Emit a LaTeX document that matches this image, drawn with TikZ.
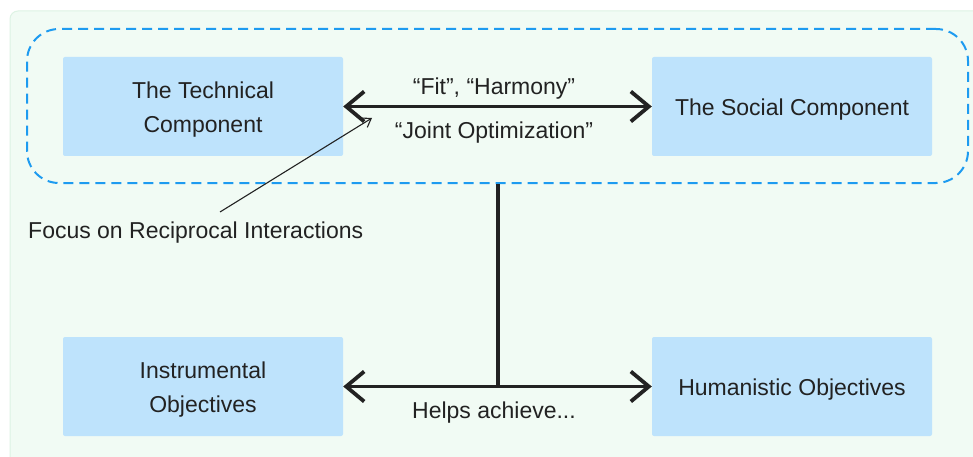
\documentclass[tikz,border=0pt]{standalone}
\usepackage{fontspec}
\setmainfont{Liberation Sans}
\usetikzlibrary{arrows.meta,fit,calc}
\definecolor{panelbg}{HTML}{F1FBF4}
\definecolor{panelrim}{HTML}{DDF3E4}
\definecolor{boxfill}{HTML}{BEE3FC}
\definecolor{groupblue}{HTML}{1E9BF0}
\definecolor{ink}{HTML}{222222}
\tikzset{
  compbox/.style={fill=boxfill, rounded corners=2pt, minimum width=280pt, minimum height=99pt, inner sep=0pt},
  boxtext/.style={text=ink, align=center, font=\fontsize{23}{34}\selectfont, inner sep=0pt, yshift=-3pt},
  biglink/.style={draw=ink, line width=3.8pt, line cap=round, line join=round,
    {Straight Barb[length=18pt,width=30pt,line width=3.8pt]}-{Straight Barb[length=18pt,width=30pt,line width=3.8pt]}},
  caption/.style={text=ink, font=\fontsize{23}{28}\selectfont, inner sep=0pt},
  pointer/.style={draw=ink, line width=1.1pt, -{Straight Barb[length=8pt,width=11pt]}},
}
\begin{document}
\begin{tikzpicture}[x=1pt,y=-1pt]
  \useasboundingbox (0,0) rectangle (973,457);
  % background panel
  \fill[white] (0,0) rectangle (973,457);
  \draw[panelrim, fill=panelbg, rounded corners=8pt, line width=1pt] (10,11) -- (990,11) -- (990,470) -- (10,470) -- cycle;

  % component boxes
  \node[compbox, label={[boxtext]center:{The Technical\\Component}}] (tech)  at (203,106.5) {};
  \node[compbox, label={[boxtext]center:{The Social Component}}]     (soc)   at (792,106.5) {};
  \node[compbox, label={[boxtext]center:{Instrumental\\Objectives}}] (instr) at (203,386.5) {};
  \node[compbox, label={[boxtext]center:{Humanistic Objectives}}]    (human) at (792,386.5) {};

  % dashed group around the two components
  \node[draw=groupblue, line width=2pt, dash pattern=on 10pt off 6pt, rounded corners=32pt,
        inner sep=0pt, fit={(27,29) (968,183)}] (sociotech) {};

  % reciprocal link between the components
  \draw[biglink] (tech.east) -- (soc.west);
  \node[caption] (fit)   at (494,89) {“Fit”, “Harmony”};
  \node[caption] (joint) at (494,133) {“Joint Optimization”};

  % objectives link
  \draw[biglink] (instr.east) -- (human.west);
  \coordinate (hub) at (498,386.5);
  \draw[draw=ink, line width=3.8pt] (sociotech.south -| hub) -- (hub);
  \node[caption] (helps) at (494,413) {Helps achieve...};

  % annotation
  \node[caption, anchor=west] (focus) at (28,233) {Focus on Reciprocal Interactions};
  \coordinate (focustail) at (220,212);
  \coordinate (focustip) at (372,118);
  \draw[pointer] (focustail) -- (focustip);
\end{tikzpicture}
\end{document}
